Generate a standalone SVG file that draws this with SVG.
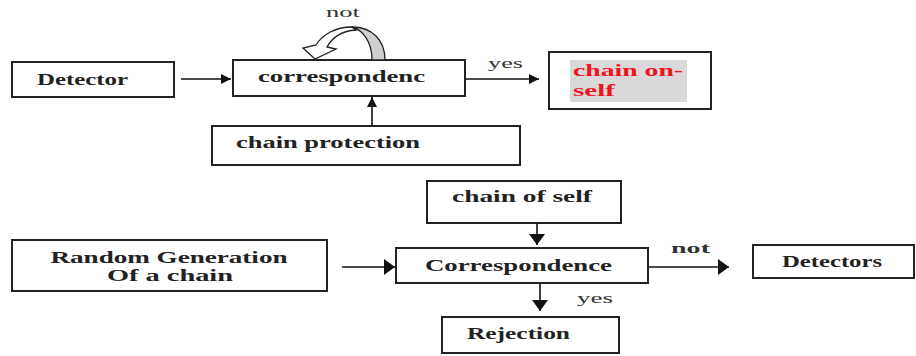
<svg xmlns="http://www.w3.org/2000/svg" width="916" height="356" viewBox="0 0 916 356">
<style>
.box{fill:#fff;stroke:#222;stroke-width:2}
.t{font-family:"Liberation Serif","Times New Roman",serif;font-weight:bold;font-size:17px;fill:#222}
.red{fill:#f0141e}
.lbl{font-family:"Liberation Serif","Times New Roman",serif;font-size:15px;fill:#333}
.line{stroke:#111;stroke-width:1.6;fill:none}
</style>
<defs>
<marker id="ah" viewBox="0 0 10 10" refX="10" refY="5" markerWidth="10" markerHeight="10" markerUnits="userSpaceOnUse" orient="auto">
<path d="M0,0 L10,5 L0,10 Z" fill="#111"/>
</marker>
<marker id="ahb" viewBox="0 0 11 16" refX="11" refY="8" markerWidth="11" markerHeight="16" markerUnits="userSpaceOnUse" orient="auto">
<path d="M0,0 L11,8 L0,16 Z" fill="#111"/>
</marker>
</defs>
<rect width="916" height="356" fill="#fff"/>

<g id="detector">
<rect class="box" x="12" y="62" width="162" height="35"/>
<text class="t" x="37" y="85" textLength="91" lengthAdjust="spacingAndGlyphs">Detector</text>
</g>
<g id="correspondenc">
<rect class="box" x="233" y="60" width="232" height="36"/>
<text class="t" x="258" y="82" textLength="167" lengthAdjust="spacingAndGlyphs">correspondenc</text>
</g>
<g id="chain-protection">
<rect class="box" x="212" y="126" width="308" height="39"/>
<text class="t" x="236" y="148" textLength="184" lengthAdjust="spacingAndGlyphs">chain protection</text>
</g>
<g id="chain-on-self">
<rect class="box" x="549" y="52" width="162" height="57"/>
<rect x="570" y="60" width="117" height="42" fill="#d9d9d9"/>
<text class="t red" x="573" y="76" textLength="110" lengthAdjust="spacingAndGlyphs">chain on-</text>
<text class="t red" x="573" y="96" textLength="42" lengthAdjust="spacingAndGlyphs">self</text>
</g>
<g id="chain-of-self">
<rect class="box" x="427" y="181" width="194" height="42"/>
<text class="t" x="452" y="202" textLength="140" lengthAdjust="spacingAndGlyphs">chain of self</text>
</g>
<g id="random-generation">
<rect class="box" x="12" y="240" width="315" height="51"/>
<text class="t" x="169" y="263" text-anchor="middle" textLength="237" lengthAdjust="spacingAndGlyphs">Random Generation</text>
<text class="t" x="170" y="281" text-anchor="middle" textLength="126" lengthAdjust="spacingAndGlyphs">Of a chain</text>
</g>
<g id="correspondence">
<rect class="box" x="396" y="248" width="252" height="35"/>
<text class="t" x="425" y="271" textLength="187" lengthAdjust="spacingAndGlyphs">Correspondence</text>
</g>
<g id="detectors">
<rect class="box" x="753" y="245" width="161" height="33"/>
<text class="t" x="782" y="267" textLength="100" lengthAdjust="spacingAndGlyphs">Detectors</text>
</g>
<g id="rejection">
<rect class="box" x="442" y="317" width="177" height="36"/>
<text class="t" x="467" y="339" textLength="103" lengthAdjust="spacingAndGlyphs">Rejection</text>
</g>

<g id="connectors">
<line class="line" x1="181" y1="79" x2="231" y2="79" marker-end="url(#ah)"/>
<line class="line" x1="372" y1="126" x2="372" y2="97" marker-end="url(#ah)"/>
<line class="line" x1="466" y1="79" x2="539" y2="79" marker-end="url(#ah)"/>
<line class="line" x1="537" y1="223" x2="537" y2="245" marker-end="url(#ahb)"/>
<line class="line" x1="342" y1="267" x2="395" y2="267" marker-end="url(#ahb)"/>
<line class="line" x1="649" y1="267" x2="729" y2="267" marker-end="url(#ahb)"/>
<line class="line" x1="540" y1="284" x2="540" y2="311" marker-end="url(#ahb)"/>
<path d="M352,27 C335,27 322,35 316,45 L303,48 L315,59 L336,49 L327,47 C332,38 341,31 356,30 Z" fill="#fff" stroke="#222" stroke-width="1.3"/>
<path d="M385,60 C385,40 372,27 352,27 C363,30 372,42 372,60 Z" fill="#cfcfcf" stroke="#222" stroke-width="1.3"/>
<text class="lbl" x="326" y="17" textLength="34" lengthAdjust="spacingAndGlyphs">not</text>
<text class="lbl" x="488" y="68" textLength="35" lengthAdjust="spacingAndGlyphs">yes</text>
<text class="lbl" x="671" y="253" style="font-weight:bold" textLength="39" lengthAdjust="spacingAndGlyphs">not</text>
<text class="lbl" x="577" y="303" textLength="36" lengthAdjust="spacingAndGlyphs">yes</text>
</g>
</svg>
